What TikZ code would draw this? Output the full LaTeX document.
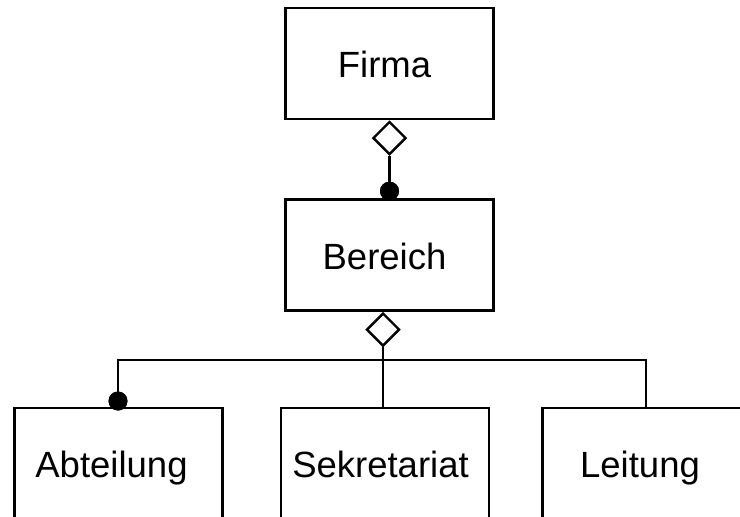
\documentclass[tikz,border=0pt]{standalone}
\usepackage{fontspec}
\setmainfont{Liberation Sans}
\usetikzlibrary{shapes.geometric}
\begin{document}
\begin{tikzpicture}[x=1pt,y=-1pt,line width=2.7pt,
  classbox/.style={draw,fill=white,minimum width=208pt,minimum height=111pt,inner sep=0pt},
  classname/.style={font=\fontsize{36.5}{40}\selectfont,inner sep=0pt,anchor=base},
  aggr/.style={draw,fill=white,diamond,aspect=1,minimum width=33pt,minimum height=33pt,inner sep=0pt,line width=2.4pt},
  joint/.style={circle,fill=black,minimum size=19pt,inner sep=0pt}]
  \useasboundingbox (0,0) rectangle (740,517);

  % classes
  \node[classbox] (firma) at (389.5,63.5) {};
  \node[classbox] (bereich) at (389.5,255) {};
  \node[classbox] (abt) at (118.5,463.5) {};
  \node[classbox] (sek) at (385,463.5) {};
  \node[classbox] (lei) at (646.5,463.5) {};

  % class names, set on a common baseline
  \node[classname] (tfirma) at ([xshift=-5pt,yshift=-14pt]firma.center) {Firma};
  \node[classname] (tbereich) at ([xshift=-5pt,yshift=-14pt]bereich.center) {Bereich};
  \node[classname] (tabt) at ([xshift=-7pt,yshift=-13.5pt]abt.center) {Abteilung};
  \node[classname] (tsek) at ([xshift=-4.5pt,yshift=-13.5pt]sek.center) {Sekretariat};
  \node[classname] (tlei) at ([xshift=-6.5pt,yshift=-13.5pt]lei.center) {Leitung};

  % Firma -- Bereich
  \node[aggr,anchor=north] (d1) at (firma.south) {};
  \node[joint] (j1) at ([yshift=7pt]bereich.north) {};
  \draw (d1.south) -- (j1.center);
  \node[joint] at (j1) {};

  % Bereich -- parts
  \node[aggr,anchor=north] (d2) at ([xshift=-6.5pt]bereich.south) {};
  \coordinate (fork) at (d2.south |- 0,360);
  \node[joint] (j2) at (118,401) {};
  \draw (d2.south) -- (fork);
  \draw (j2.center) |- (fork) -| ([xshift=-0.5pt]lei.north);
  \draw (fork) -- (fork |- sek.north);
  \node[joint] at (j2) {};
\end{tikzpicture}
\end{document}
